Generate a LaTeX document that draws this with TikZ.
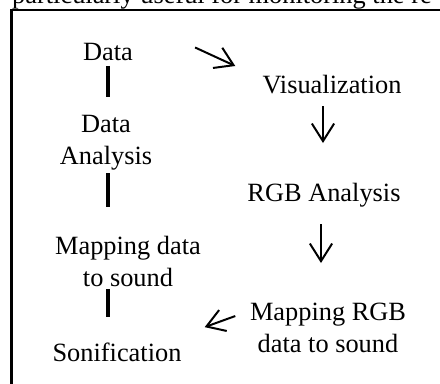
\documentclass[tikz,border=0pt]{standalone}
\usepackage{fontspec}
\setmainfont{Liberation Serif}
\usetikzlibrary{arrows.meta, calc}

\begin{document}
\begin{tikzpicture}[x=0.03cm, y=-0.03cm,
  lbl/.style={inner sep=0pt, anchor=north, align=center, font=\fontsize{22.5}{27.2}\selectfont},
  bar/.style={line width=2.6pt},
  arr/.style={line width=1.7pt, -{Straight Barb[length=15pt, width=19pt, line width=1.7pt]}}]
\useasboundingbox (0,0) rectangle (440,383);
\clip (0,0) rectangle (440,383);
\node[lbl, anchor=base west] (cap) at (12,3) {particularly useful for monitoring the re};
\draw[line width=2pt] (11.5,10) rectangle (470,420);
\node[lbl] (data) at (108,43) {Data};
\node[lbl] (ana) at (106,115) {Data\\Analysis};
\node[lbl] (map) at (128,236) {Mapping data\\to sound};
\node[lbl] (son) at (117,343) {Sonification};
\node[lbl] (vis) at (332,75) {Visualization};
\node[lbl] (rgb) at (324,183) {RGB Analysis};
\node[lbl] (rmap) at (328,303) {Mapping RGB\\data to sound};
\draw[bar] ($(data.south)+(0,5)$) -- ($(ana.north)+(2,-18)$);
\draw[bar] ($(ana.south)+(2,3)$) -- ($(map.north)+(-20,-29)$);
\draw[bar] ($(map.south)+(-20,2)$) -- ($(son.north)+(-9,-26)$);
\draw[arr] ($(data.east)+(62,-4.5)$) -- ($(vis.north west)+(-27,-9)$);
\draw[arr] ($(vis.south)+(-9,12)$) -- ($(rgb.north)+(-1,-40)$);
\draw[arr] ($(rgb.south)+(-3,17)$) -- ($(rmap.north)+(-7,-40)$);
\draw[arr] ($(rmap.west)+(-14.5,-12)$) -- ($(son.east)+(23,-25.5)$);
\end{tikzpicture}
\end{document}
